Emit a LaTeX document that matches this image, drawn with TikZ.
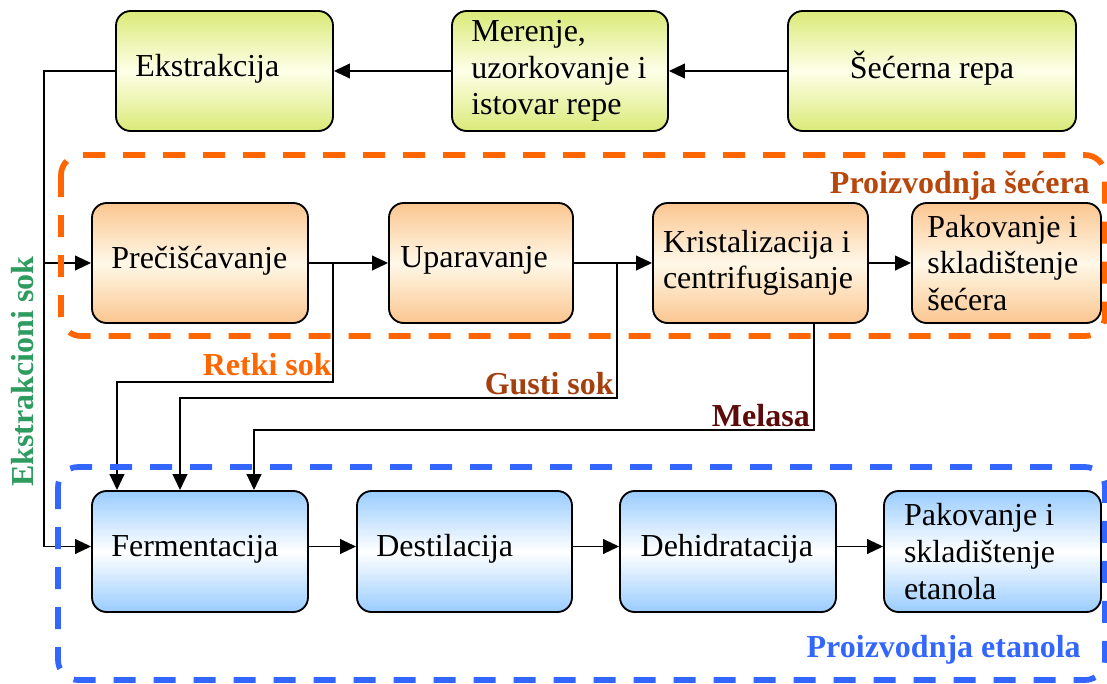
\documentclass[tikz,border=0pt]{standalone}
\usepackage{fontspec}
\setmainfont{Liberation Serif}
\usetikzlibrary{arrows.meta}
\definecolor{gtop}{HTML}{DAEA78}
\definecolor{gmid}{HTML}{FEFFE8}
\definecolor{otop}{HTML}{FBC690}
\definecolor{omid}{HTML}{FFF8E8}
\definecolor{btop}{HTML}{99CCFF}
\definecolor{bmid}{HTML}{FFFFFF}
\definecolor{orangeF}{HTML}{FF6600}
\definecolor{blueF}{HTML}{3366FF}
\definecolor{retC}{HTML}{FF6600}
\definecolor{gustiC}{HTML}{A3400E}
\definecolor{melC}{HTML}{5C0A0A}
\definecolor{psC}{HTML}{B8470C}
\definecolor{peC}{HTML}{3366FF}
\definecolor{ekC}{HTML}{2E9B5F}
\begin{document}
\begin{tikzpicture}[x=0.75pt,y=-0.75pt,
  box/.style={draw=black, line width=1.4pt, rounded corners=11pt, minimum height=90pt, inner sep=0pt},
  gbox/.style={box, top color=gtop, bottom color=gtop, middle color=gmid},
  obox/.style={box, top color=otop, bottom color=otop, middle color=omid},
  bbox/.style={box, top color=btop, bottom color=btop, middle color=bmid, minimum height=90.75pt},
  txt/.style={font=\fontsize{24}{27.5}\selectfont, align=left, inner sep=0pt, anchor=west},
  lab/.style={font=\fontsize{24}{27.5}\selectfont\bfseries, inner sep=0pt},
  conn/.style={line width=1.4pt},
  arr/.style={conn, -{Triangle[length=12pt,width=11pt]}},
  frame/.style={line width=4.3pt, dash pattern=on 16.5pt off 13.5pt, rounded corners=15pt},
]
\useasboundingbox (0,0) rectangle (1107,683);

% top row
\node[gbox, minimum width=162.75pt] (ekst) at (224.5,71) {};
\node[gbox, minimum width=162pt] (mer) at (560,71) {};
\node[gbox, minimum width=216pt] (sec) at (932,71) {};
% middle row
\node[obox, minimum width=162pt] (prec) at (200,263) {};
\node[obox, minimum width=138pt] (upar) at (481,263) {};
\node[obox, minimum width=161.25pt] (krist) at (760.5,263) {};
\node[obox, minimum width=141.75pt] (paks) at (1006.5,263) {};
% bottom row
\node[bbox, minimum width=162pt] (fer) at (200,551.5) {};
\node[bbox, minimum width=161.25pt] (dest) at (464.5,551.5) {};
\node[bbox, minimum width=162pt] (dehid) at (728,551.5) {};
\node[bbox, minimum width=162.75pt] (pake) at (992.5,551.5) {};

% texts
\node[txt] (ekstT) at ([xshift=15pt,yshift=2pt]ekst.west) {Ekstrakcija};
\node[txt] (merT) at ([xshift=15pt]mer.west) {Merenje,\\uzorkovanje i\\istovar repe};
\node[txt, anchor=center] (secT) at ([yshift=2pt]sec.center) {Šećerna repa};
\node[txt] (precT) at ([xshift=15pt,yshift=2pt]prec.west) {Prečišćavanje};
\node[txt] (uparT) at ([xshift=9pt,yshift=2pt]upar.west) {Uparavanje};
\node[txt] (kristT) at ([xshift=8pt]krist.west) {Kristalizacija i\\centrifugisanje};
\node[txt] (paksT) at ([xshift=12pt]paks.west) {Pakovanje i\\skladištenje\\šećera};
\node[txt] (ferT) at ([xshift=15pt,yshift=2pt]fer.west) {Fermentacija};
\node[txt] (destT) at ([xshift=15pt,yshift=2pt]dest.west) {Destilacija};
\node[txt] (dehidT) at ([xshift=16pt,yshift=2pt]dehid.west) {Dehidratacija};
\node[txt] (pakeT) at ([xshift=15.5pt]pake.west) {Pakovanje i\\skladištenje\\etanola};

% connectors top
\draw[arr] (sec) -- (mer);
\draw[arr] (mer) -- (ekst);
\coordinate (lt) at (44,71);
\coordinate (lb) at (44,546.5);
\coordinate (lm) at (44,263);
\draw[arr] (ekst.west) -- (lt) -- (lb) -- ([yshift=3.75pt]fer.west);
\draw[arr] (lm) -- (prec.west);

% middle row
\draw[arr] (prec) -- (upar);
\draw[arr] (upar) -- (krist);
\draw[arr] (krist) -- (paks);

% Retki sok
\coordinate (r1) at (333,263);
\coordinate (r2) at (333,382);
\coordinate (r3) at (117,382);
\draw[arr] (r1) -- (r2) -- (r3) -- (r3 |- fer.north);
% Gusti sok
\coordinate (g1) at (617,263);
\coordinate (g2) at (617,398);
\coordinate (g3) at (180,398);
\draw[arr] (g1) -- (g2) -- (g3) -- (g3 |- fer.north);
% Melasa
\coordinate (m1) at (814,430);
\coordinate (m3) at (254,430);
\draw[arr] (m1 |- krist.south) -- (m1) -- (m3) -- (m3 |- fer.north);

% bottom row
\draw[arr] ([yshift=3.75pt]fer.east) -- ([yshift=3.75pt]dest.west);
\draw[arr] ([yshift=3.75pt]dest.east) -- ([yshift=3.75pt]dehid.west);
\draw[arr] ([yshift=3.75pt]dehid.east) -- ([yshift=3.75pt]pake.west);

% frames
\draw[frame, orangeF] (61,155) rectangle (1105,336);
\draw[frame, blueF] (58,467) rectangle (1105,680);

% labels
\node[lab, text=retC, anchor=base east] (retki) at (332,375) {Retki sok};
\node[lab, text=gustiC, anchor=base east] (gusti) at (614,394) {Gusti sok};
\node[lab, text=melC, anchor=base east] (mel) at (810,426) {Melasa};
\node[lab, text=psC, anchor=base east] (ps) at (1090,193) {Proizvodnja šećera};
\node[lab, text=peC, anchor=base east] (pe) at (1081,657) {Proizvodnja etanola};
\node[lab, text=ekC, rotate=90, anchor=base west] (eks) at (33,487) {Ekstrakcioni sok};
\end{tikzpicture}
\end{document}
